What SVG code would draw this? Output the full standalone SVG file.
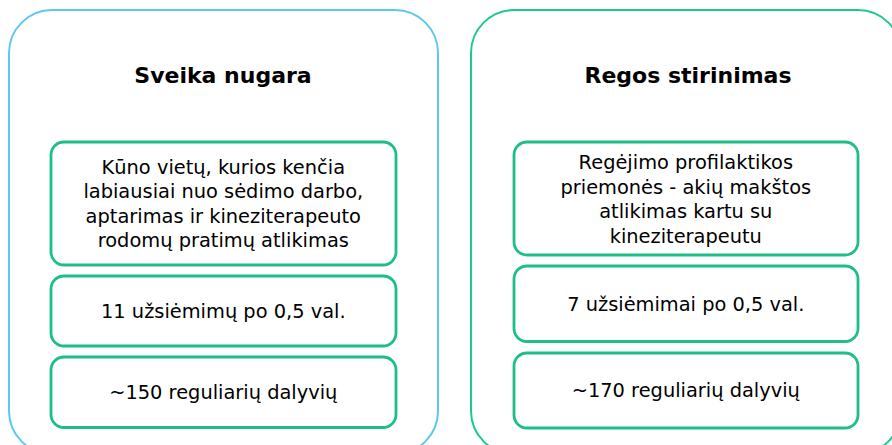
<svg xmlns="http://www.w3.org/2000/svg" width="892" height="445" viewBox="0 0 892 445">
<style>
.outer{fill:none;stroke-width:2}
.inner{fill:#fff;stroke:#1DBF86;stroke-width:2.8}
.t{font-family:"DejaVu Sans","Verdana",sans-serif;font-size:19.4px;fill:#000;text-anchor:middle}
.h{font-family:"DejaVu Sans","Verdana",sans-serif;font-size:22px;font-weight:bold;fill:#000;text-anchor:middle}
</style>
<rect width="892" height="445" fill="#fff"/>
<g id="left-panel">
<rect class="outer" x="9" y="10" width="429" height="444" rx="43" stroke="#5CC8F2"/>
<text class="h" x="223" y="83.3">Sveika nugara</text>
</g>
<g id="left-desc">
<rect class="inner" x="51" y="142" width="345" height="123" rx="13"/>
<text class="t" x="223.3" y="173.5">Kūno vietų, kurios kenčia</text>
<text class="t" x="223.3" y="198">labiausiai nuo sėdimo darbo,</text>
<text class="t" x="223.3" y="222.5">aptarimas ir kineziterapeuto</text>
<text class="t" x="223.3" y="247">rodomų pratimų atlikimas</text>
</g>
<g id="left-sessions">
<rect class="inner" x="51" y="276" width="345" height="70" rx="13"/>
<text class="t" x="223.3" y="318">11 užsiėmimų po 0,5 val.</text>
</g>
<g id="left-participants">
<rect class="inner" x="51" y="357" width="345" height="70.5" rx="13"/>
<text class="t" x="223.3" y="399">~150 reguliarių dalyvių</text>
</g>
<g id="right-panel">
<rect class="outer" x="471" y="10" width="430" height="444" rx="43" stroke="#1DC98E"/>
<text class="h" x="688" y="83.3">Regos stirinimas</text>
</g>
<g id="right-desc">
<rect class="inner" x="514" y="142" width="344" height="113" rx="13"/>
<text class="t" x="685.8" y="169">Regėjimo profilaktikos</text>
<text class="t" x="685.8" y="193.5">priemonės - akių makštos</text>
<text class="t" x="685.8" y="218">atlikimas kartu su</text>
<text class="t" x="685.8" y="242.5">kineziterapeutu</text>
</g>
<g id="right-sessions">
<rect class="inner" x="514" y="266" width="344" height="75.5" rx="13"/>
<text class="t" x="685.8" y="310.5">7 užsiėmimai po 0,5 val.</text>
</g>
<g id="right-participants">
<rect class="inner" x="514" y="353" width="344" height="75" rx="13"/>
<text class="t" x="685.8" y="397">~170 reguliarių dalyvių</text>
</g>
<g id="connectors"/>
</svg>
